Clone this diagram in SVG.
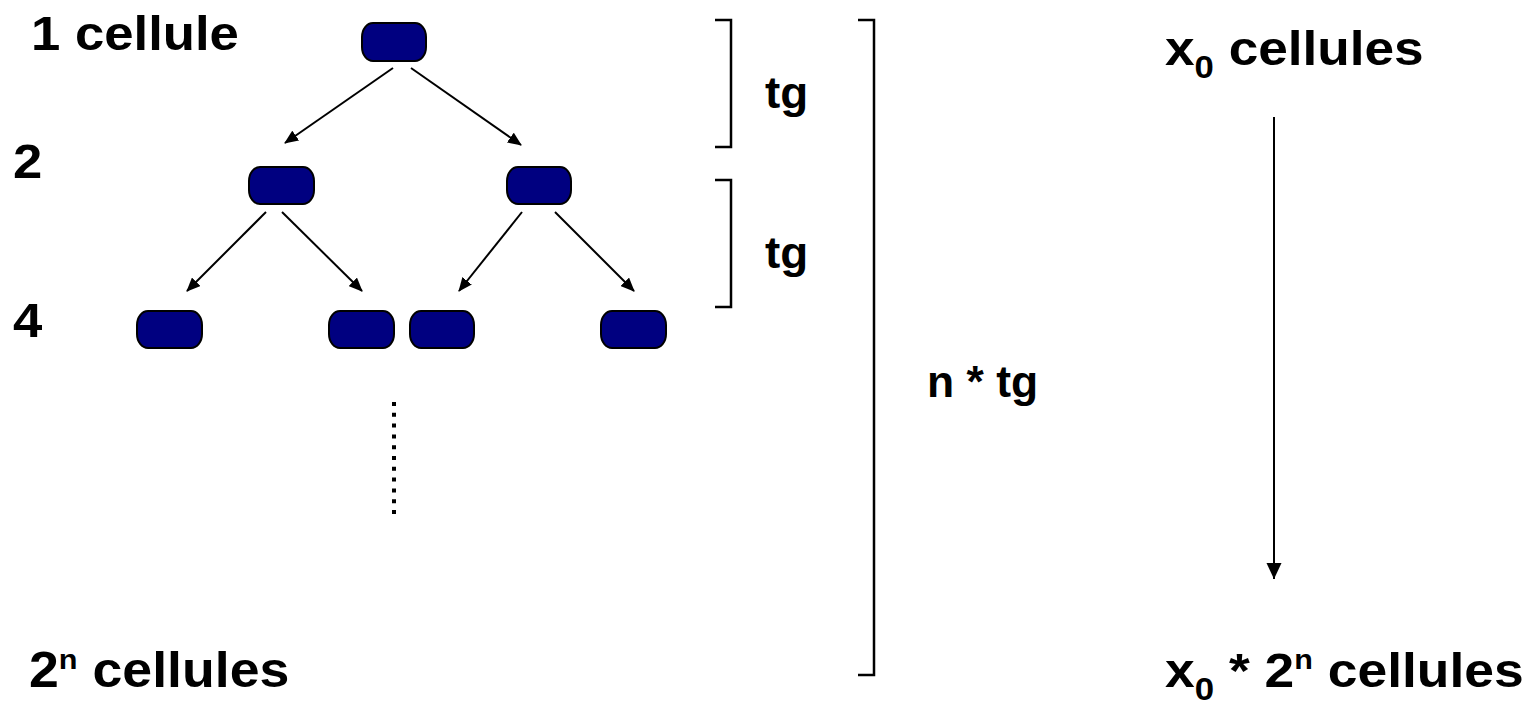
<svg xmlns="http://www.w3.org/2000/svg" width="1540" height="704" viewBox="0 0 1540 704">
<style>
.node{fill:#000080;stroke:#000;stroke-width:2}
.lbl{font-family:"Liberation Sans",Arial,sans-serif;font-weight:bold;font-size:49px;fill:#000}
.tg{font-family:"Liberation Sans",Arial,sans-serif;font-weight:bold;font-size:44px;fill:#000}
.sm{font-size:32px}
.sup{font-size:28px}
.edge{stroke:#000;stroke-width:2;fill:none}
.br{stroke:#000;stroke-width:2.5;fill:none}
</style>
<defs>
<marker id="ah" markerWidth="14" markerHeight="12" refX="13" refY="6" orient="auto" markerUnits="userSpaceOnUse">
<path d="M0,0 L14,6 L0,12 Z" fill="#000"/>
</marker>
<marker id="ah2" markerWidth="16" markerHeight="16" refX="16" refY="8" orient="auto" markerUnits="userSpaceOnUse">
<path d="M0,0.5 L16,8 L0,15.5 Z" fill="#000"/>
</marker>
</defs>
<rect width="1540" height="704" fill="#fff"/>
<g id="connectors">
<line class="edge" x1="393" y1="68" x2="285" y2="143" marker-end="url(#ah)"/>
<line class="edge" x1="411" y1="68" x2="521" y2="145" marker-end="url(#ah)"/>
<line class="edge" x1="266" y1="212" x2="187" y2="291" marker-end="url(#ah)"/>
<line class="edge" x1="282" y1="212" x2="362" y2="291" marker-end="url(#ah)"/>
<line class="edge" x1="522" y1="212" x2="459" y2="291" marker-end="url(#ah)"/>
<line class="edge" x1="555" y1="212" x2="634" y2="291" marker-end="url(#ah)"/>
<line x1="394" y1="402" x2="394" y2="517" stroke="#000" stroke-width="4" stroke-dasharray="4 6.8"/>
<line class="edge" x1="1274" y1="117" x2="1274" y2="579" marker-end="url(#ah2)"/>
</g>
<g id="n1"><rect class="node" x="362" y="23" width="64" height="38" rx="11" ry="14"/></g>
<g id="n2a"><rect class="node" x="249" y="167" width="65" height="37" rx="11" ry="14"/></g>
<g id="n2b"><rect class="node" x="507" y="167" width="64" height="37" rx="11" ry="14"/></g>
<g id="n3a"><rect class="node" x="137" y="311" width="65" height="37" rx="11" ry="14"/></g>
<g id="n3b"><rect class="node" x="329" y="311" width="65" height="37" rx="11" ry="14"/></g>
<g id="n3c"><rect class="node" x="410" y="311" width="64" height="37" rx="11" ry="14"/></g>
<g id="n3d"><rect class="node" x="601" y="311" width="65" height="37" rx="11" ry="14"/></g>
<g id="brackets">
<path class="br" d="M715,20 H731 V147 H715"/>
<path class="br" d="M715,180 H731 V307 H715"/>
<path class="br" d="M858,20 H874 V675 H858"/>
</g>
<g id="labels">
<text class="lbl" transform="translate(31,50) scale(1.075,1)">1 cellule</text>
<text class="lbl" transform="translate(13,178) scale(1.075,1)">2</text>
<text class="lbl" transform="translate(13,337) scale(1.075,1)">4</text>
<text class="tg" transform="translate(765,108) scale(1.04,1)">tg</text>
<text class="tg" transform="translate(765,268) scale(1.04,1)">tg</text>
<text class="tg" transform="translate(927,397) scale(1.01,1)">n * tg</text>
<text class="lbl" transform="translate(1165,65) scale(1.085,1)">x<tspan class="sm" dy="13">0</tspan><tspan dy="-13"> cellules</tspan></text>
<text class="lbl" transform="translate(29,687) scale(1.095,1)">2<tspan class="sup" dy="-18">n</tspan><tspan dy="18"> cellules</tspan></text>
<text class="lbl" transform="translate(1165,687) scale(1.09,1)">x<tspan class="sm" dy="13">0</tspan><tspan dy="-13"> * 2</tspan><tspan class="sup" dy="-18">n</tspan><tspan dy="18"> cellules</tspan></text>
</g>
</svg>
